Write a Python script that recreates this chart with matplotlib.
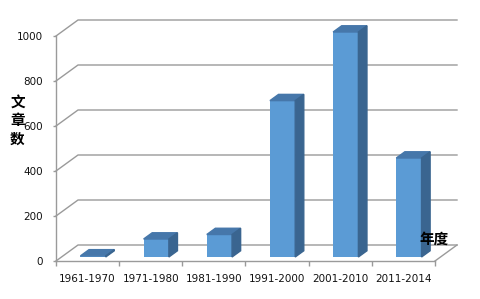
import matplotlib.pyplot as plt
from matplotlib.patches import Polygon

plt.rcParams['font.family'] = ['DejaVu Sans', 'Noto Sans CJK SC']

# data
categories = ['1961-1970', '1971-1980', '1981-1990', '1991-2000', '2001-2010', '2011-2014']
counts = [5, 80, 100, 695, 1000, 440]
y_ticks = [0, 200, 400, 600, 800, 1000]

front_col = '#5B9BD5'
top_col = '#4677AA'
side_col = '#3A6590'
grid_col = '#9A9A9A'

fig = plt.figure(figsize=(4.81, 2.99), dpi=100)
W, H = 481, 299
# axes = front plane of the 3d box, in pixels
left, right, bottom, top = 56, 435, 261, 36
ax = fig.add_axes([left / W, (H - bottom) / H, (right - left) / W, (bottom - top) / H])
ax.set_xlim(-0.5, len(categories) - 0.5)
ax.set_ylim(0, 1000)

# depth of the box (px -> data units)
px_x = len(categories) / (right - left)
px_y = 1000 / (bottom - top)
ddx, ddy = 22 * px_x, 16 * px_y
f0, f1 = 0.25, 0.64   # front / back of bars as fraction of depth
bw = 0.40

x0, x1 = -0.5, len(categories) - 0.5

# back wall gridlines + side diagonals
for t in y_ticks:
    ax.plot([x0, x0 + ddx, x1 + ddx], [t, t + ddy, t + ddy], color=grid_col, lw=1,
            clip_on=False, zorder=1)
# floor right edge
ax.plot([x1, x1 + ddx], [0, ddy], color=grid_col, lw=1, clip_on=False, zorder=1)

# bars
for i, v in enumerate(counts):
    bx = i - bw / 2 + f0 * ddx
    by = f0 * ddy
    d_x = (f1 - f0) * ddx
    d_y = (f1 - f0) * ddy
    ax.bar(bx, v, width=bw, bottom=by, align='edge', color=front_col, zorder=3,
           clip_on=False)
    ax.add_patch(Polygon([(bx, by + v), (bx + bw, by + v), (bx + bw + d_x, by + v + d_y),
                          (bx + d_x, by + v + d_y)], closed=True, color=top_col, zorder=3,
                         clip_on=False))
    ax.add_patch(Polygon([(bx + bw, by), (bx + bw, by + v), (bx + bw + d_x, by + v + d_y),
                          (bx + bw + d_x, by + d_y)], closed=True, color=side_col, zorder=3,
                         clip_on=False))

for s in ['top', 'right']:
    ax.spines[s].set_visible(False)
for s in ['left', 'bottom']:
    ax.spines[s].set_color(grid_col)
    ax.spines[s].set_linewidth(1)

ax.set_yticks(y_ticks)
ax.set_yticklabels([str(t) for t in y_ticks])
ax.tick_params(axis='y', length=2.2, width=1, color=grid_col, pad=7, labelsize=7.5,
               labelcolor='#111111')

ax.set_xticks([i - 0.5 for i in range(len(categories) + 1)])
ax.set_xticklabels([])
ax.set_xticks(range(len(categories)), minor=True)
ax.set_xticklabels(categories, minor=True)
ax.tick_params(axis='x', which='major', length=3.6, width=1, color=grid_col)
ax.tick_params(axis='x', which='minor', length=0, pad=9, labelsize=7.5, labelcolor='#111111')

fig.text(17.5 / W, 1 - 120 / H, '文\n章\n数', ha='center', va='center', fontsize=10.5,
         fontweight='bold', linespacing=1.2, family=['Noto Sans CJK SC'])
fig.text(434.5 / W, 1 - 239 / H, '年度', ha='center', va='center', fontsize=10.5,
         fontweight='bold', family=['Noto Sans CJK SC'])

fig.savefig('out.png', dpi=100)
